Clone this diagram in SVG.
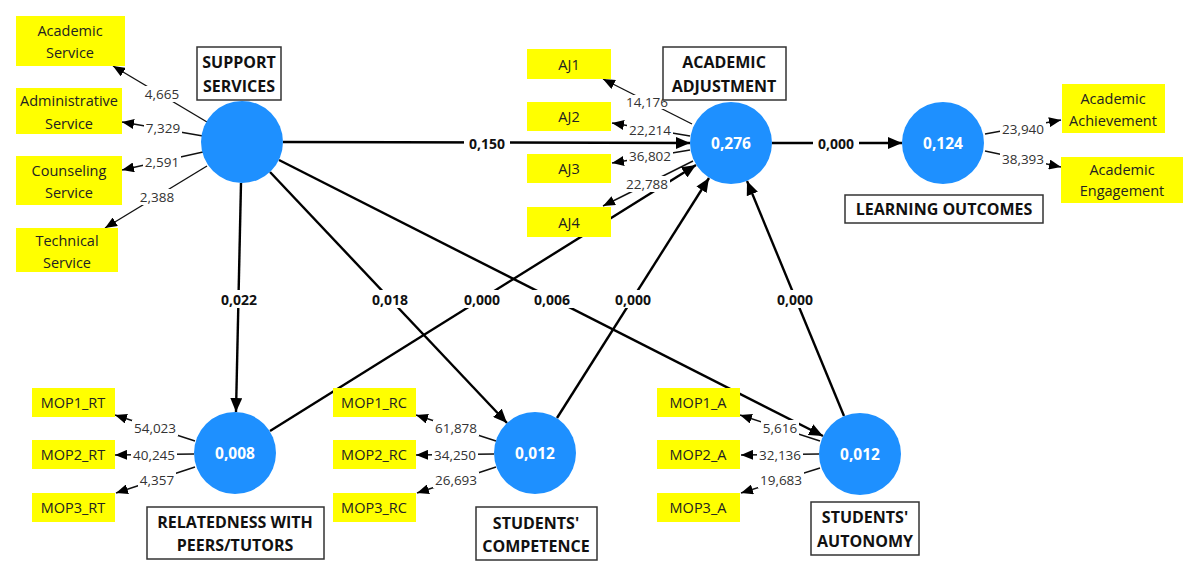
<svg xmlns="http://www.w3.org/2000/svg" width="1200" height="577" viewBox="0 0 1200 577">
<style>
.ind{fill:#ffff00}
.it{font-family:"Open Sans","Noto Sans",sans-serif;font-size:14.5px;fill:#222;text-anchor:middle;dominant-baseline:central}
.lat{fill:#1e90ff}
.lv{font-family:"Open Sans","Noto Sans",sans-serif;font-size:15.5px;font-weight:bold;fill:#fff;text-anchor:middle;dominant-baseline:central}
.lb{fill:#fff;stroke:#333;stroke-width:1.5}
.lbt{font-family:"Open Sans","Noto Sans",sans-serif;font-size:16px;font-weight:bold;fill:#111;text-anchor:middle;dominant-baseline:central}
.path{stroke:#000;stroke-width:2.4;fill:none;marker-end:url(#ah)}
.load{stroke:#111;stroke-width:1.4;fill:none;marker-end:url(#ahs)}
.bg{fill:#fff}
.pc{font-family:"Open Sans","Noto Sans",sans-serif;font-size:14px;font-weight:bold;fill:#111;text-anchor:middle;dominant-baseline:central}
.ld{font-family:"Open Sans","Noto Sans",sans-serif;font-size:13.5px;fill:#333;text-anchor:middle;dominant-baseline:central}
</style>
<defs>
<marker id="ah" markerUnits="userSpaceOnUse" markerWidth="14" markerHeight="12" refX="14" refY="6" orient="auto"><path d="M0,0 L14,6 L0,12 z" fill="#000"/></marker>
<marker id="ahs" markerUnits="userSpaceOnUse" markerWidth="12" markerHeight="10" refX="12" refY="5" orient="auto"><path d="M0,0 L12,5 L0,10 z" fill="#000"/></marker>
</defs>
<rect width="1200" height="577" fill="#fff"/>

<g id="connectors">
  <!-- structural paths -->
  <line class="path" x1="283" y1="142" x2="690" y2="143"/>
  <line class="path" x1="772" y1="143" x2="902" y2="143"/>
  <line class="path" x1="241" y1="183" x2="236" y2="412"/>
  <line class="path" x1="270" y1="172" x2="507" y2="423"/>
  <line class="path" x1="279" y1="160" x2="823" y2="436"/>
  <line class="path" x1="270" y1="431" x2="696" y2="165"/>
  <line class="path" x1="557" y1="418" x2="709" y2="178"/>
  <line class="path" x1="844" y1="416" x2="747" y2="181"/>
  <!-- loadings -->
  <line class="load" x1="207" y1="122" x2="113" y2="66"/>
  <line class="load" x1="203" y1="136" x2="122" y2="122"/>
  <line class="load" x1="203" y1="152" x2="122" y2="170"/>
  <line class="load" x1="207" y1="166" x2="105" y2="228"/>
  <line class="load" x1="692" y1="124" x2="603" y2="79"/>
  <line class="load" x1="690" y1="136" x2="612" y2="123"/>
  <line class="load" x1="690" y1="150" x2="612" y2="163"/>
  <line class="load" x1="693" y1="161" x2="603" y2="206"/>
  <line class="load" x1="985" y1="134" x2="1061" y2="120"/>
  <line class="load" x1="985" y1="151" x2="1061" y2="167"/>
  <line class="load" x1="195" y1="441" x2="115" y2="415"/>
  <line class="load" x1="194" y1="454" x2="115" y2="455"/>
  <line class="load" x1="195" y1="467" x2="116" y2="493"/>
  <line class="load" x1="496" y1="441" x2="416" y2="415"/>
  <line class="load" x1="494" y1="454" x2="416" y2="455"/>
  <line class="load" x1="496" y1="467" x2="417" y2="493"/>
  <line class="load" x1="820" y1="441" x2="740" y2="415"/>
  <line class="load" x1="819" y1="454" x2="741" y2="455"/>
  <line class="load" x1="820" y1="468" x2="741" y2="493"/>
  <!-- path coefficients -->
  <rect class="bg" x="464" y="134" width="46" height="18"/><text class="pc" x="487" y="143">0,150</text>
  <rect class="bg" x="813" y="134" width="46" height="18"/><text class="pc" x="836" y="143">0,000</text>
  <rect class="bg" x="216" y="290" width="46" height="18"/><text class="pc" x="239" y="299">0,022</text>
  <rect class="bg" x="367" y="290" width="46" height="18"/><text class="pc" x="390" y="299">0,018</text>
  <rect class="bg" x="459" y="290" width="46" height="18"/><text class="pc" x="482" y="299">0,000</text>
  <rect class="bg" x="529" y="290" width="46" height="18"/><text class="pc" x="552" y="299">0,006</text>
  <rect class="bg" x="610" y="290" width="46" height="18"/><text class="pc" x="633" y="299">0,000</text>
  <rect class="bg" x="772" y="290" width="46" height="18"/><text class="pc" x="795" y="299">0,000</text>
  <!-- loading values -->
  <rect class="bg" x="143" y="86" width="38" height="16"/><text class="ld" x="162" y="94">4,665</text>
  <rect class="bg" x="144" y="120" width="38" height="16"/><text class="ld" x="163" y="128">7,329</text>
  <rect class="bg" x="143" y="154" width="38" height="16"/><text class="ld" x="162" y="162">2,591</text>
  <rect class="bg" x="138" y="189" width="38" height="16"/><text class="ld" x="157" y="197">2,388</text>
  <rect class="bg" x="624" y="95" width="46" height="14"/><text class="ld" x="647" y="102">14,176</text>
  <rect class="bg" x="627" y="122" width="46" height="16"/><text class="ld" x="650" y="130">22,214</text>
  <rect class="bg" x="627" y="148" width="46" height="16"/><text class="ld" x="650" y="156">36,802</text>
  <rect class="bg" x="624" y="176" width="46" height="16"/><text class="ld" x="647" y="184">22,788</text>
  <rect class="bg" x="1000" y="121" width="46" height="16"/><text class="ld" x="1023" y="129">23,940</text>
  <rect class="bg" x="1000" y="151" width="46" height="16"/><text class="ld" x="1023" y="159">38,393</text>
  <rect class="bg" x="132" y="420" width="46" height="16"/><text class="ld" x="155" y="428">54,023</text>
  <rect class="bg" x="131" y="447" width="46" height="16"/><text class="ld" x="154" y="455">40,245</text>
  <rect class="bg" x="138" y="472" width="38" height="16"/><text class="ld" x="157" y="480">4,357</text>
  <rect class="bg" x="433" y="420" width="46" height="16"/><text class="ld" x="456" y="428">61,878</text>
  <rect class="bg" x="432" y="447" width="46" height="16"/><text class="ld" x="455" y="455">34,250</text>
  <rect class="bg" x="433" y="472" width="46" height="16"/><text class="ld" x="456" y="480">26,693</text>
  <rect class="bg" x="761" y="420" width="38" height="16"/><text class="ld" x="780" y="428">5,616</text>
  <rect class="bg" x="757" y="447" width="46" height="16"/><text class="ld" x="780" y="455">32,136</text>
  <rect class="bg" x="758" y="472" width="46" height="16"/><text class="ld" x="781" y="480">19,683</text>
</g>

<g id="support-services">
  <circle class="lat" cx="242" cy="142" r="41"/>
  <rect class="lb" x="197" y="47" width="84" height="53"/>
  <text class="lbt" x="239" y="62">SUPPORT</text>
  <text class="lbt" x="239" y="86">SERVICES</text>
</g>
<g id="academic-adjustment">
  <circle class="lat" cx="731" cy="143" r="41"/>
  <text class="lv" x="731" y="143">0,276</text>
  <rect class="lb" x="663" y="47" width="123" height="53"/>
  <text class="lbt" x="724" y="62">ACADEMIC</text>
  <text class="lbt" x="724" y="86">ADJUSTMENT</text>
</g>
<g id="learning-outcomes">
  <circle class="lat" cx="943" cy="143" r="41"/>
  <text class="lv" x="943" y="143">0,124</text>
  <rect class="lb" x="845" y="195" width="198" height="28"/>
  <text class="lbt" x="944" y="209">LEARNING OUTCOMES</text>
</g>
<g id="relatedness">
  <circle class="lat" cx="235" cy="453" r="41"/>
  <text class="lv" x="235" y="453">0,008</text>
  <rect class="lb" x="147" y="507" width="177" height="52"/>
  <text class="lbt" x="235" y="522">RELATEDNESS WITH</text>
  <text class="lbt" x="235" y="545">PEERS/TUTORS</text>
</g>
<g id="competence">
  <circle class="lat" cx="535" cy="453" r="41"/>
  <text class="lv" x="535" y="453">0,012</text>
  <rect class="lb" x="476" y="507" width="121" height="53"/>
  <text class="lbt" x="536" y="523">STUDENTS'</text>
  <text class="lbt" x="536" y="546">COMPETENCE</text>
</g>
<g id="autonomy">
  <circle class="lat" cx="860" cy="454" r="41"/>
  <text class="lv" x="860" y="454">0,012</text>
  <rect class="lb" x="811" y="502" width="108" height="53"/>
  <text class="lbt" x="865" y="517">STUDENTS'</text>
  <text class="lbt" x="865" y="541">AUTONOMY</text>
</g>

<g id="academic-service"><rect class="ind" x="16" y="16" width="109" height="50"/><text class="it" x="70" y="30">Academic</text><text class="it" x="70" y="52">Service</text></g>
<g id="administrative-service"><rect class="ind" x="16" y="88" width="106" height="46"/><text class="it" x="69" y="100">Administrative</text><text class="it" x="69" y="123">Service</text></g>
<g id="counseling-service"><rect class="ind" x="16" y="156" width="106" height="49"/><text class="it" x="69" y="170">Counseling</text><text class="it" x="69" y="192">Service</text></g>
<g id="technical-service"><rect class="ind" x="16" y="228" width="102" height="44"/><text class="it" x="67" y="240">Technical</text><text class="it" x="67" y="262">Service</text></g>

<g id="aj1"><rect class="ind" x="527" y="49" width="84" height="30"/><text class="it" x="569" y="64">AJ1</text></g>
<g id="aj2"><rect class="ind" x="527" y="102" width="84" height="29"/><text class="it" x="569" y="116.5">AJ2</text></g>
<g id="aj3"><rect class="ind" x="527" y="154" width="84" height="29"/><text class="it" x="569" y="168.5">AJ3</text></g>
<g id="aj4"><rect class="ind" x="527" y="207" width="84" height="30"/><text class="it" x="569" y="222">AJ4</text></g>

<g id="academic-achievement"><rect class="ind" x="1062" y="84" width="103" height="49"/><text class="it" x="1113" y="98">Academic</text><text class="it" x="1113" y="120">Achievement</text></g>
<g id="academic-engagement"><rect class="ind" x="1061" y="157" width="122" height="46"/><text class="it" x="1122" y="169">Academic</text><text class="it" x="1122" y="190">Engagement</text></g>

<g id="mop1-rt"><rect class="ind" x="32" y="388" width="83" height="29"/><text class="it" x="73" y="402.5">MOP1_RT</text></g>
<g id="mop2-rt"><rect class="ind" x="32" y="440" width="83" height="29"/><text class="it" x="73" y="454.5">MOP2_RT</text></g>
<g id="mop3-rt"><rect class="ind" x="32" y="493" width="83" height="29"/><text class="it" x="73" y="507.5">MOP3_RT</text></g>

<g id="mop1-rc"><rect class="ind" x="333" y="388" width="83" height="29"/><text class="it" x="374" y="402.5">MOP1_RC</text></g>
<g id="mop2-rc"><rect class="ind" x="333" y="440" width="83" height="29"/><text class="it" x="374" y="454.5">MOP2_RC</text></g>
<g id="mop3-rc"><rect class="ind" x="333" y="493" width="83" height="29"/><text class="it" x="374" y="507.5">MOP3_RC</text></g>

<g id="mop1-a"><rect class="ind" x="657" y="388" width="83" height="29"/><text class="it" x="698" y="402.5">MOP1_A</text></g>
<g id="mop2-a"><rect class="ind" x="657" y="440" width="83" height="29"/><text class="it" x="698" y="454.5">MOP2_A</text></g>
<g id="mop3-a"><rect class="ind" x="657" y="493" width="83" height="29"/><text class="it" x="698" y="507.5">MOP3_A</text></g>
</svg>
